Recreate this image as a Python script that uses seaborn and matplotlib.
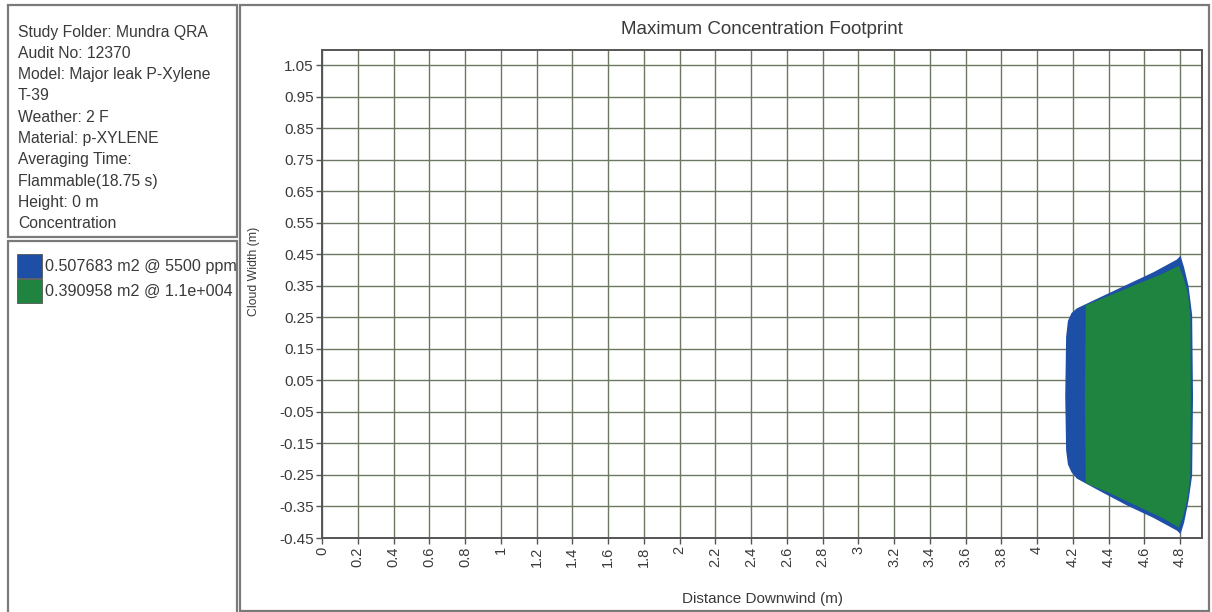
import numpy as np
import matplotlib
matplotlib.use('Agg')
import matplotlib.pyplot as plt
from matplotlib.patches import Rectangle
from matplotlib.transforms import Bbox, TransformedBbox
import seaborn as sns

# footprint outlines (x in m, upper / lower half-width in m)
blue_x = [4.155, 4.16, 4.17, 4.19, 4.22, 4.35, 4.50, 4.65, 4.78, 4.80, 4.82, 4.845, 4.865, 4.870]
blue_upper = [0.0, 0.19, 0.24, 0.265, 0.28, 0.315, 0.355, 0.395, 0.435, 0.447, 0.41, 0.35, 0.26, 0.0]
blue_lower = [0.0, -0.17, -0.215, -0.24, -0.26, -0.30, -0.345, -0.385, -0.425, -0.436, -0.40, -0.33, -0.25, 0.0]

green_x = [4.265, 4.27, 4.40, 4.55, 4.70, 4.79, 4.815, 4.84, 4.855, 4.858]
green_upper = [0.0, 0.29, 0.32, 0.355, 0.39, 0.415, 0.38, 0.33, 0.26, 0.0]
green_lower = [0.0, -0.275, -0.305, -0.345, -0.385, -0.415, -0.38, -0.32, -0.25, 0.0]

x_ticks = [round(0.2 * i, 1) for i in range(25)]
y_ticks = [round(1.05 - 0.1 * i, 2) for i in range(16)]

info_lines = ['Study Folder: Mundra QRA', 'Audit No: 12370', 'Model: Major leak P-Xylene',
              'T-39', 'Weather: 2 F', 'Material: p-XYLENE', 'Averaging Time:',
              'Flammable(18.75 s)', 'Height: 0 m', 'Concentration']
legend_labels = ['0.507683 m2 @ 5500 ppm', '0.390958 m2 @ 1.1e+004']
legend_colors = ['#1d4fa6', '#1e8440']

W, H = 1212, 612


def px(x, y):
    return x / W, 1 - y / H


def main():
    sns.set_theme(style='white')
    plt.rcParams['font.family'] = ['Liberation Sans', 'DejaVu Sans']
    fig = plt.figure(figsize=(W / 100, H / 100), dpi=100)
    fig.patch.set_facecolor('white')

    frame_col = '#7a7a7a'
    text_col = '#3a3a3a'
    # left info box, legend box and right panel
    boxes = [(8, 5, 229, 232), (8, 241, 229, 380), (240, 5, 969, 606)]
    for (x0, y0, w, h) in boxes:
        fx, fy = px(x0, y0 + h)
        fig.add_artist(Rectangle((fx, fy), w / W, h / H, transform=fig.transFigure,
                                 fill=False, ec=frame_col, lw=1.6))

    for i, line in enumerate(info_lines):
        fx, fy = px(18, 32 + i * 21.3)
        fig.text(fx, fy, line, fontsize=11.3, color=text_col, va='center', ha='left')

    # legend entries are cut off by the box edge, as in the original
    x0, y0 = px(9, 612)
    x1, y1 = px(236, 242)
    clip = TransformedBbox(Bbox.from_extents(x0, y0, x1, y1), fig.transFigure)
    for i, (lab, col) in enumerate(zip(legend_labels, legend_colors)):
        sx, sy = px(17, 254 + 25 * i + 24)
        fig.add_artist(Rectangle((sx, sy), 25 / W, 24 / H, transform=fig.transFigure,
                                 fc=col, ec='#555555', lw=0.6))
        tx, ty = px(45, 266 + 25 * i)
        t = fig.text(tx, ty, lab, fontsize=11.6, color=text_col, va='center', ha='left')
        t.set_clip_box(clip)
        t.set_clip_on(True)

    ax = fig.add_axes([322 / W, (H - 538) / H, 880 / W, 488 / H])
    ax.fill_between(blue_x, blue_lower, blue_upper, color=legend_colors[0], lw=0, zorder=3)
    ax.fill_between(green_x, green_lower, green_upper, color=legend_colors[1], lw=0, zorder=4)

    ax.set_xlim(0, 4.923)
    ax.set_ylim(-0.45, 1.098)
    ax.set_xticks(x_ticks)
    ax.set_xticklabels([f'{v:g}' for v in x_ticks], rotation=90, fontsize=10.5, color=text_col)
    ax.set_yticks(y_ticks)
    ax.set_yticklabels([f'{v:.2f}' for v in y_ticks], fontsize=11, color=text_col)
    ax.tick_params(axis='both', direction='out', length=4, width=1, color='#555555',
                   bottom=True, left=True, pad=2)
    ax.grid(True, color='#6d7862', lw=1.0, zorder=1)
    ax.set_axisbelow(True)
    for s in ax.spines.values():
        s.set_color('#555555')
        s.set_linewidth(1.4)

    ax.set_xlabel('Distance Downwind (m)', fontsize=11, color=text_col)
    ax.xaxis.set_label_coords(0.501, -0.11)
    ax.set_ylabel('Cloud Width (m)', fontsize=8.8, color=text_col)
    ax.yaxis.set_label_coords(-0.071, 0.547)
    tx, ty = px(762, 29)
    fig.text(tx, ty, 'Maximum Concentration Footprint', fontsize=13.5, color=text_col,
             ha='center', va='center')

    fig.savefig('out.png', dpi=100, facecolor='white')
    plt.close(fig)


if __name__ == '__main__':
    main()
